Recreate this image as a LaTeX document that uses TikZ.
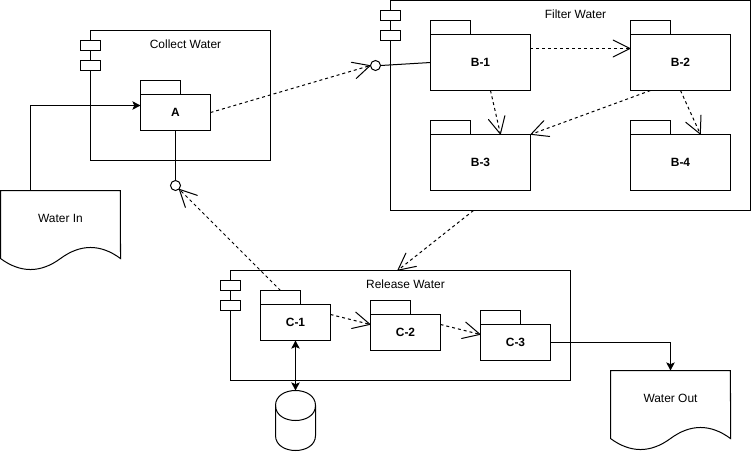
\documentclass[tikz,border=0pt]{standalone}
\usepackage{fontspec}
\setmainfont{Liberation Sans}
\usetikzlibrary{arrows.meta}

\tikzset{
  every node/.style={inner sep=0pt,outer sep=0pt,font=\fontsize{6.8}{8}\selectfont},
  solid line/.style={line width=0.57pt},
  unit/.style={draw,solid line,minimum width=#1},
  port/.style={draw,solid line,fill=white,minimum width=0.4cm,minimum height=0.2cm},
  tab/.style={draw,solid line,minimum width=0.8cm,minimum height=0.28cm},
  body/.style={draw,solid line,minimum width=1.4cm,minimum height=0.72cm,font=\fontsize{6.8}{8}\selectfont\bfseries},
  bigbody/.style={body,minimum width=2cm,minimum height=1.12cm},
  ball/.style={draw,solid line,fill=white,circle,minimum size=0.2cm},
  doc/.style={minimum width=2.4cm,minimum height=1.12cm},
  dep/.style={solid line,dash pattern=on 1.7pt off 1.7pt,-{Straight Barb[length=9.6pt,width=9.6pt,round=false,line width=0.57pt]}},
  flow/.style={solid line,->}
}

\begin{document}
\begin{tikzpicture}[x=0.02cm,y=-0.02cm,>={Stealth[length=4.6pt,width=4.8pt,inset=1pt]}]
  \useasboundingbox (-0.5,-0.5) rectangle (750.5,450.5);

  \node[unit=3.6cm,minimum height=2.6cm] (collect) at (180,95) {};
  \node (collectlabel) at (185,44) {Collect Water};
  \node[port] (cport1) at (90,45) {};
  \node[port] (cport2) at (90,65) {};
  \node[tab] (atab) at (160,87) {};
  \node[body] (a) at (175,112) {A};

  \node[unit=7.2cm,minimum height=4.2cm] (filter) at (570,105) {};
  \node (filterlabel) at (575,14) {Filter Water};
  \node[port] (fport1) at (390,15) {};
  \node[port] (fport2) at (390,35) {};
  \node[tab] (b1tab) at (450,27) {};
  \node[bigbody] (b1) at (480,62) {B-1};
  \node[tab] (b2tab) at (650,27) {};
  \node[bigbody] (b2) at (680,62) {B-2};
  \node[tab] (b3tab) at (450,127) {};
  \node[bigbody] (b3) at (480,162) {B-3};
  \node[tab] (b4tab) at (650,127) {};
  \node[bigbody] (b4) at (680,162) {B-4};

  \node[unit=6.8cm,minimum height=2.2cm] (release) at (400,325) {};
  \node (releaselabel) at (405,284) {Release Water};
  \node[port] (rport1) at (230,285) {};
  \node[port] (rport2) at (230,305) {};
  \node[tab] (c1tab) at (280,297) {};
  \node[body] (c1) at (295,322) {C-1};
  \node[tab] (c2tab) at (390,307) {};
  \node[body] (c2) at (405,332) {C-2};
  \node[tab] (c3tab) at (500,317) {};
  \node[body] (c3) at (515,342) {C-3};

  \node[ball] (balla) at (175,185) {};
  \node[ball] (ballb) at (375,65) {};

  % documents
  \node[doc] (waterin) at (60,218) {Water In};
  \draw[solid line] (waterin.north west) -- (waterin.north east) -- (120,258)
    .. controls (100,243.3) and (80,243.3) .. (60,258)
    .. controls (40,272.7) and (20,272.7) .. (0,258) -- cycle;
  \node[doc] (waterout) at (670,398) {Water Out};
  \draw[solid line] (waterout.north west) -- (waterout.north east) -- (730,438)
    .. controls (710,423.3) and (690,423.3) .. (670,438)
    .. controls (650,452.7) and (630,452.7) .. (610,438) -- cycle;

  % tank
  \coordinate (tank) at (295,390);
  \draw[solid line] (275,405) .. controls (275,385) and (315,385) .. (315,405)
    -- (315,435) .. controls (315,455) and (275,455) .. (275,435) -- cycle;
  \draw[solid line] (275,405) .. controls (275,425) and (315,425) .. (315,405);

  \draw[flow] ([shift={(-30,0)}]waterin.north) |- ([shift={(0,-7)}]a.west);
  \draw[flow] (c3.east) -| (waterout.north);
  \draw[flow,<->] (c1.south) -- (tank);
  \draw[solid line] (a.south) -- (balla.north);
  \draw[solid line] (ballb.east) -- (b1.west);

  \draw[dep] (a.east) -- (ballb.west);
  \draw[dep] (c1tab.north) -- (balla.south east);
  \draw[dep] ([shift={(0,-14)}]b1.east) -- ([shift={(0,-14)}]b2.west);
  \draw[dep] ([shift={(10,0)}]b1.south) -- ([shift={(20,0)}]b3.north);
  \draw[dep] ([shift={(-30,0)}]b2.south) -- (b3.north east);
  \draw[dep] (b2.south) -- ([shift={(20,0)}]b4.north);
  \draw[dep] ([shift={(-97,0)}]filter.south) -- ([shift={(-3,0)}]release.north);
  \draw[dep] ([shift={(0,-8)}]c1.east) -- ([shift={(0,-8)}]c2.west);
  \draw[dep] ([shift={(0,-8)}]c2.east) -- ([shift={(0,-8)}]c3.west);
\end{tikzpicture}
\end{document}
